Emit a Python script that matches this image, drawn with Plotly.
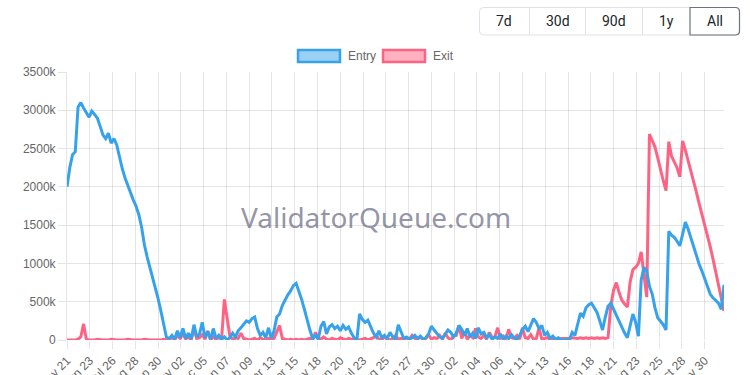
import pandas as pd
import plotly.graph_objects as go

# ---------------- data (thousands of ETH, one value every 4 days) ----------------
start_date = "2023-05-21"
step = "4D"

entry_k = [
    2000, 2250, 2420, 2460, 3040, 3100, 3030, 2960, 2910, 2990,
    2940, 2900, 2790, 2680, 2630, 2700, 2570, 2630, 2550, 2390,
    2240, 2120, 2020, 1940, 1830, 1750, 1640, 1480, 1250, 1090,
    960, 820, 690, 540, 380, 190, 40, 20, 60, 10,
    120, 30, 150, 20, 90, 10, 200, 40, 80, 230,
    30, 110, 10, 150, 20, 60, 10, 40, 0, 30,
    90, 40, 120, 160, 200, 250, 230, 280, 300, 150,
    60, 100, 30, 160, 20, 120, 300, 340, 450, 530,
    590, 640, 710, 740, 640, 530, 400, 260, 130, 20,
    60, 10, 180, 240, 80, 170, 200, 150, 180, 120,
    190, 140, 170, 90, 30, 0, 340, 270, 230, 260,
    180, 90, 40, 120, 30, 60, 20, 100, 40, 10,
    200, 120, 20, 40, 10, 30, 60, 20, 50, 10,
    30, 80, 180, 130, 90, 40, 20, 70, 130, 100,
    40, 90, 190, 140, 60, 150, 40, 90, 20, 160,
    80, 100, 30, 70, 10, 40, 20, 80, 10, 50,
    20, 70, 30, 10, 60, 140, 180, 110, 200, 280,
    230, 150, 190, 60, 100, 20, 50, 10, 30, 0,
    0, 5, 0, 100, 60, 200, 350, 310, 420, 460,
    480, 420, 360, 250, 130, 300, 440, 480, 400, 320,
    250, 160, 90, 30, 200, 340, 230, 50, 780, 950,
    900, 700, 600, 420, 290, 240, 200, 130, 1420, 1370,
    1340, 1290, 1230, 1380, 1540, 1450, 1330, 1220, 1100, 990,
    900, 790, 680, 600, 550, 510, 480, 400, 720,
]

exit_k = [
    0, 0, 0, 0, 10, 40, 210, 10, 0, 0,
    0, 10, 0, 0, 0, 0, 10, 0, 0, 0,
    0, 0, 10, 0, 0, 0, 0, 0, 10, 0,
    0, 0, 0, 0, 0, 10, 0, 10, 30, 0,
    60, 20, 80, 10, 40, 0, 150, 20, 30, 70,
    10, 120, 0, 40, 10, 30, 10, 530, 300, 50,
    10, 30, 20, 90, 20, 10, 0, 10, 20, 0,
    30, 10, 0, 20, 10, 20, 100, 190, 20, 10,
    0, 10, 0, 10, 0, 10, 0, 10, 20, 0,
    100, 20, 10, 40, 10, 0, 20, 10, 0, 30,
    10, 0, 20, 10, 0, 10, 0, 10, 20, 0,
    10, 30, 60, 10, 0, 40, 10, 0, 20, 60,
    10, 20, 0, 30, 10, 60, 20, 10, 40, 0,
    20, 70, 10, 30, 20, 60, 10, 90, 30, 0,
    50, 60, 190, 20, 110, 10, 60, 30, 150, 40,
    20, 60, 10, 100, 30, 40, 160, 20, 50, 10,
    140, 30, 20, 60, 10, 160, 30, 20, 70, 10,
    20, 160, 10, 20, 30, 10, 20, 10, 20, 20,
    20, 20, 20, 30, 20, 20, 30, 20, 30, 20,
    30, 20, 30, 20, 30, 20, 30, 450, 650, 750,
    620, 520, 470, 430, 760, 920, 950, 1000, 1150, 850,
    560, 2690, 2600, 2520, 2380, 2220, 2080, 1950, 2590, 2400,
    2330, 2250, 2130, 2600, 2480, 2350, 2220, 2080, 1930, 1780,
    1640, 1510, 1380, 1220, 1060, 890, 720, 560, 380,
]

tick_dates = [
    "2023-05-21", "2023-06-23", "2023-07-26", "2023-08-28", "2023-09-30",
    "2023-11-02", "2023-12-05", "2024-01-07", "2024-02-09", "2024-03-13",
    "2024-04-15", "2024-05-18", "2024-06-20", "2024-07-23", "2024-08-25",
    "2024-09-27", "2024-10-30", "2024-12-02", "2025-01-04", "2025-02-06",
    "2025-03-11", "2025-04-13", "2025-05-16", "2025-06-18", "2025-07-21",
    "2025-08-23", "2025-09-25", "2025-10-28", "2025-11-30",
]
y_ticks = [0, 500, 1000, 1500, 2000, 2500, 3000, 3500]
series_names = ["Entry", "Exit"]
range_buttons = ["7d", "30d", "90d", "1y", "All"]

# ---------------- figure ----------------
n = min(len(entry_k), len(exit_k))
dates = pd.date_range(start_date, periods=n, freq=step)
tick_text = [pd.Timestamp(d).strftime("%b %d") for d in tick_dates]
y_text = ["0" if v == 0 else f"{v}k" for v in y_ticks]

BLUE = "rgb(54,162,235)"
PINK = "rgb(255,99,132)"
GRID = "rgba(0,0,0,0.1)"

fig = go.Figure()
fig.add_trace(go.Scatter(x=dates, y=exit_k[:n], mode="lines", name=series_names[1],
                         line=dict(color=PINK, width=3), showlegend=False))
fig.add_trace(go.Scatter(x=dates, y=entry_k[:n], mode="lines", name=series_names[0],
                         line=dict(color=BLUE, width=3), showlegend=False))

W, H = 750, 375
L, R, T, B = 67, 724, 72, 340


def px(x):
    return (x - L) / (R - L)


def py(y):
    return (B - y) / (B - T)


def rrect(x0, y0, x1, y1, r, left=True, right=True):
    X0, X1 = px(x0), px(x1)
    Y0, Y1 = py(y0), py(y1)
    rx = r / (R - L)
    ry = r / (B - T)
    p = []
    if left:
        p.append(f"M {X0+rx},{Y0}")
    else:
        p.append(f"M {X0},{Y0}")
    if right:
        p.append(f"L {X1-rx},{Y0} Q {X1},{Y0} {X1},{Y0-ry} L {X1},{Y1+ry} Q {X1},{Y1} {X1-rx},{Y1}")
    else:
        p.append(f"L {X1},{Y0} L {X1},{Y1}")
    if left:
        p.append(f"L {X0+rx},{Y1} Q {X0},{Y1} {X0},{Y1+ry} L {X0},{Y0-ry} Q {X0},{Y0} {X0+rx},{Y0} Z")
    else:
        p.append(f"L {X0},{Y1} Z")
    return " ".join(p)


shapes = []
annotations = []

# legend (chart.js style boxes)
legend_items = [(298, 340, 346, series_names[0], BLUE, "rgba(54,162,235,0.5)"),
                (383, 425, 431, series_names[1], PINK, "rgba(255,99,132,0.5)")]
for x0, x1, tx, name, col, fill in legend_items:
    shapes.append(dict(type="rect", xref="paper", yref="paper",
                       x0=px(x0), x1=px(x1), y0=py(62), y1=py(50),
                       line=dict(color=col, width=2.5), fillcolor=fill))
    annotations.append(dict(text=name, xref="paper", yref="paper", x=px(tx), y=py(56),
                            xanchor="left", yanchor="middle", showarrow=False,
                            font=dict(size=12, color="#666", family="Liberation Sans, Arial")))

# range buttons
shapes.append(dict(type="path", xref="paper", yref="paper",
                   path=rrect(479.5, 7.5, 739.5, 35, 4),
                   line=dict(color="#dee2e6", width=1), fillcolor="white"))
for xd in [529.5, 585.5, 642.5]:
    shapes.append(dict(type="line", xref="paper", yref="paper",
                       x0=px(xd), x1=px(xd), y0=py(8), y1=py(34.5),
                       line=dict(color="#dee2e6", width=1)))
shapes.append(dict(type="path", xref="paper", yref="paper",
                   path=rrect(690, 7.5, 739.5, 35, 4, left=False),
                   line=dict(color="#6c757d", width=1.2), fillcolor="rgba(0,0,0,0)"))
for label, cx in zip(range_buttons, [504, 557.5, 614, 666, 715]):
    annotations.append(dict(text=label, xref="paper", yref="paper", x=px(cx), y=py(21.5),
                            xanchor="center", yanchor="middle", showarrow=False,
                            font=dict(size=14, color="#212529", family="Roboto, Arial")))

# watermark
annotations.append(dict(text="ValidatorQueue.com", xref="paper", yref="paper",
                        x=px(376), y=py(217), xanchor="center", yanchor="middle",
                        showarrow=False,
                        font=dict(size=28, color="rgba(95,95,125,0.68)", family="Noto Sans")))

fig.update_layout(
    width=W, height=H,
    margin=dict(l=L, r=W - R, t=T, b=H - B, pad=0),
    paper_bgcolor="white", plot_bgcolor="white",
    showlegend=False,
    shapes=shapes, annotations=annotations,
    font=dict(family="Liberation Sans, Arial", size=12, color="#666"),
    xaxis=dict(type="date", range=[dates[0], dates[-1]],
               tickmode="array", tickvals=tick_dates, ticktext=tick_text,
               tickangle=-45, showgrid=True, gridcolor=GRID, gridwidth=1,
               ticks="outside", ticklen=8, tickcolor=GRID,
               zeroline=False, showline=False, automargin=False,
               tickfont=dict(size=12, color="#666")),
    yaxis=dict(range=[0, 3500], tickmode="array", tickvals=y_ticks, ticktext=y_text,
               showgrid=True, gridcolor=GRID, gridwidth=1,
               ticks="outside", ticklen=8, tickcolor=GRID,
               zeroline=False, showline=True, linecolor=GRID, automargin=False,
               tickfont=dict(size=12, color="#666")),
)

fig.write_html("out.html")
